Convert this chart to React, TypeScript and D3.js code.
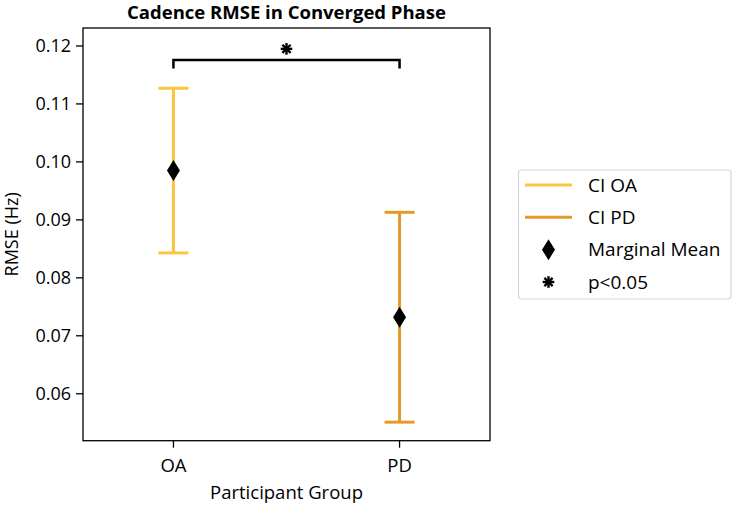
import * as d3 from "d3";
import { useEffect, useRef } from "react";

const groups = ["OA", "PD"];
const means = [0.0985, 0.0732];
const ciLow = [0.0843, 0.0551];
const ciHigh = [0.1127, 0.0913];
const ciColors = ["#fdc53f", "#e39b28"];
const yTicks = [0.06, 0.07, 0.08, 0.09, 0.1, 0.11, 0.12];
const legendLabels = ["CI OA", "CI PD", "Marginal Mean", "p<0.05"];
const bracketY = 0.1176;
const bracketDrop = 0.1161;
const starY = 0.1195;

const FONT = "'Open Sans', Lato, sans-serif";

export default function App() {
  const svgRef = useRef<SVGSVGElement>(null);

  useEffect(() => {
    const svg = d3.select(svgRef.current);
    svg.selectAll("*").remove();

    const width = 733;
    const height = 506;
    const margin = { left: 83, right: 490, top: 28, bottom: 440.7 };

    const x = d3.scaleLinear().domain([-0.4, 1.4]).range([margin.left, margin.right]);
    const y = d3.scaleLinear().domain([0.0519, 0.1231]).range([margin.bottom, margin.top]);

    svg.attr("viewBox", `0 0 ${width} ${height}`).attr("width", width).attr("height", height);
    svg.append("rect").attr("width", width).attr("height", height).attr("fill", "#fff");

    // error bars
    groups.forEach((g, i) => {
      const cx = x(i);
      svg
        .append("line")
        .attr("x1", cx)
        .attr("x2", cx)
        .attr("y1", y(ciLow[i]))
        .attr("y2", y(ciHigh[i]))
        .attr("stroke", ciColors[i])
        .attr("stroke-width", 3);
      [ciLow[i], ciHigh[i]].forEach((v) => {
        svg
          .append("line")
          .attr("x1", cx - 15)
          .attr("x2", cx + 15)
          .attr("y1", y(v))
          .attr("y2", y(v))
          .attr("stroke", ciColors[i])
          .attr("stroke-width", 3);
      });
    });

    const diamond = (cx: number, cy: number) =>
      `M${cx},${cy - 10.5}L${cx + 6.5},${cy}L${cx},${cy + 10.5}L${cx - 6.5},${cy}Z`;

    means.forEach((m, i) => {
      svg.append("path").attr("d", diamond(x(i), y(m))).attr("fill", "#000");
    });

    // significance bracket
    svg
      .append("path")
      .attr("d", `M${x(0)},${y(bracketDrop)}V${y(bracketY)}H${x(1)}V${y(bracketDrop)}`)
      .attr("fill", "none")
      .attr("stroke", "#000")
      .attr("stroke-width", 2.5);

    // heavy asterisk marker
    const star = (cx: number, cy: number, r: number) => {
      const gg = svg.append("g");
      for (let k = 0; k < 4; k++) {
        const a = (k * Math.PI) / 4 + Math.PI / 2;
        gg.append("line")
          .attr("x1", cx - Math.cos(a) * r)
          .attr("x2", cx + Math.cos(a) * r)
          .attr("y1", cy - Math.sin(a) * r)
          .attr("y2", cy + Math.sin(a) * r)
          .attr("stroke", "#000")
          .attr("stroke-width", 2.4)
          .attr("stroke-linecap", "butt");
      }
      gg.append("circle").attr("cx", cx).attr("cy", cy).attr("r", 2).attr("fill", "#000");
    };
    star((x(0) + x(1)) / 2, y(starY), 5.8);

    // spines
    svg
      .append("rect")
      .attr("x", margin.left)
      .attr("y", margin.top)
      .attr("width", margin.right - margin.left)
      .attr("height", margin.bottom - margin.top)
      .attr("fill", "none")
      .attr("stroke", "#000")
      .attr("stroke-width", 1.3);

    // y axis
    yTicks.forEach((t) => {
      svg
        .append("line")
        .attr("x1", margin.left - 7)
        .attr("x2", margin.left)
        .attr("y1", y(t))
        .attr("y2", y(t))
        .attr("stroke", "#000")
        .attr("stroke-width", 1.3);
      svg
        .append("text")
        .attr("x", margin.left - 12)
        .attr("y", y(t))
        .attr("dy", "0.35em")
        .attr("text-anchor", "end")
        .attr("font-family", FONT)
        .attr("font-size", 18)
        .attr("fill", "#000")
        .text(t.toFixed(2));
    });

    // x axis
    groups.forEach((g, i) => {
      svg
        .append("line")
        .attr("x1", x(i))
        .attr("x2", x(i))
        .attr("y1", margin.bottom)
        .attr("y2", margin.bottom + 7)
        .attr("stroke", "#000")
        .attr("stroke-width", 1.3);
      svg
        .append("text")
        .attr("x", x(i))
        .attr("y", 466)
        .attr("dy", "0.35em")
        .attr("text-anchor", "middle")
        .attr("font-family", FONT)
        .attr("font-size", 18.5)
        .attr("fill", "#000")
        .text(g);
    });

    svg
      .append("text")
      .attr("x", (margin.left + margin.right) / 2)
      .attr("y", 493)
      .attr("dy", "0.35em")
      .attr("text-anchor", "middle")
      .attr("font-family", FONT)
      .attr("font-size", 18.5)
      .text("Participant Group");

    svg
      .append("text")
      .attr("transform", `translate(12,${(margin.top + margin.bottom) / 2}) rotate(-90)`)
      .attr("dy", "0.35em")
      .attr("text-anchor", "middle")
      .attr("font-family", FONT)
      .attr("font-size", 18)
      .text("RMSE (Hz)");

    svg
      .append("text")
      .attr("x", (margin.left + margin.right) / 2)
      .attr("y", 19)
      .attr("text-anchor", "middle")
      .attr("font-family", FONT)
      .attr("font-weight", "bold")
      .attr("font-size", 18.5)
      .text("Cadence RMSE in Converged Phase");

    // legend
    const lg = svg.append("g");
    lg.append("rect")
      .attr("x", 518.5)
      .attr("y", 170)
      .attr("width", 212.5)
      .attr("height", 129)
      .attr("rx", 3)
      .attr("fill", "#fff")
      .attr("stroke", "#d6d6d6")
      .attr("stroke-width", 1.2);
    const rowY = d3.scaleLinear().domain([0, 3]).range([185, 282]);
    legendLabels.forEach((lab, i) => {
      const ry = rowY(i);
      if (i < 2) {
        lg.append("line")
          .attr("x1", 525)
          .attr("x2", 572)
          .attr("y1", ry)
          .attr("y2", ry)
          .attr("stroke", ciColors[i])
          .attr("stroke-width", 3);
      }
      lg.append("text")
        .attr("x", 588)
        .attr("y", ry)
        .attr("dy", "0.35em")
        .attr("font-family", FONT)
        .attr("font-size", 19)
        .text(lab);
    });
    lg.append("path").attr("d", diamond(548.5, rowY(2))).attr("fill", "#000");
    star(548.5, rowY(3), 5.8);
  }, []);

  return (
    <div style={{ position: "absolute", left: 0, top: 0 }}>
      <svg ref={svgRef} style={{ display: "block" }} />
    </div>
  );
}
